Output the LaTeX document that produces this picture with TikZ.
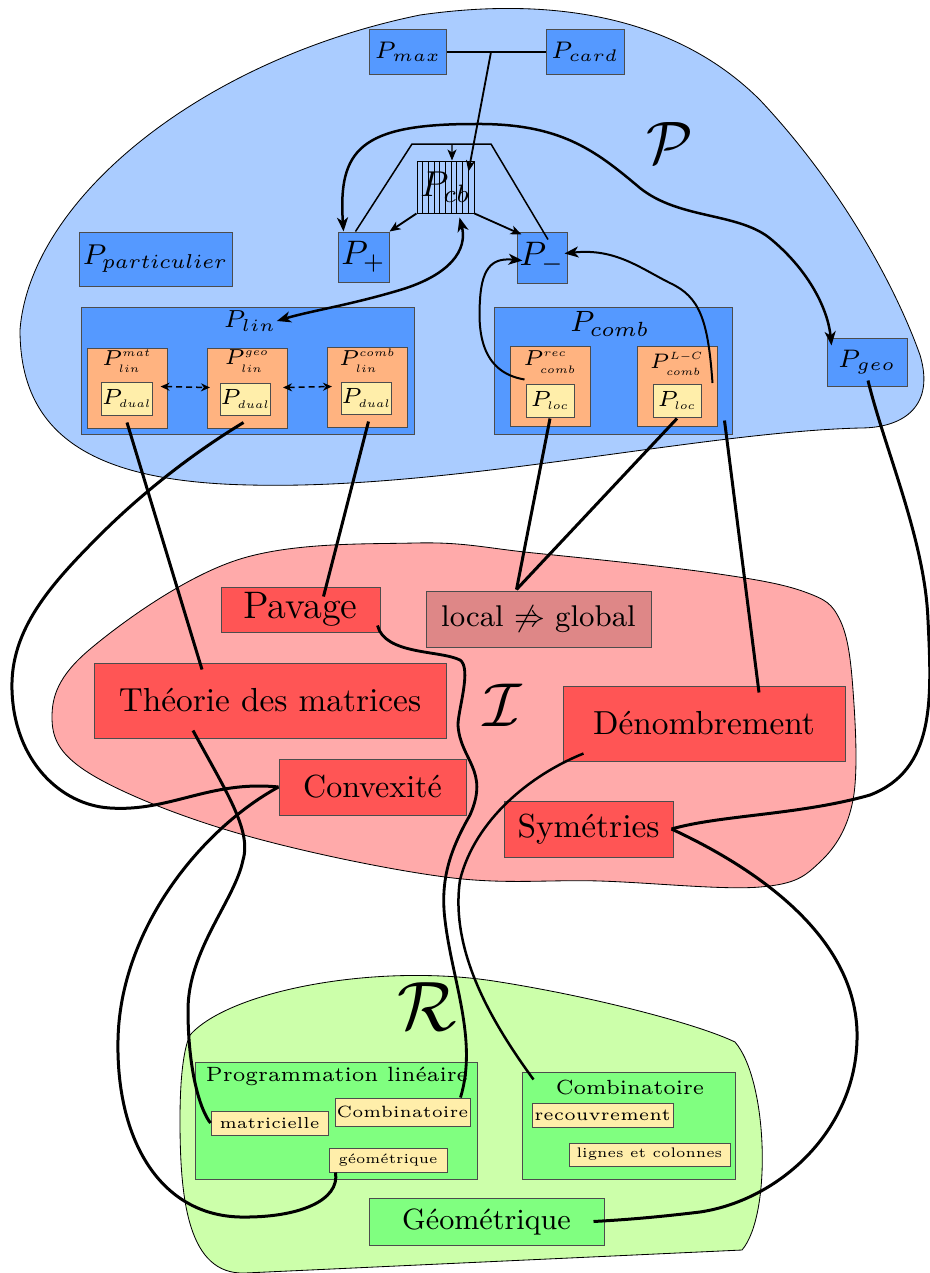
\RequirePackage{fix-cm}
\documentclass[tikz,border=0pt]{standalone}
\usetikzlibrary{arrows.meta,calc}
\newcommand{\fsz}[1]{\fontsize{#1}{#1}\selectfont}
\newcommand{\ssc}[1]{{\scriptscriptstyle #1}}
\definecolor{bgblue}{HTML}{AACCFF}
\definecolor{boxblue}{HTML}{5599FF}
\definecolor{orangebox}{HTML}{FFB380}
\definecolor{yellowbox}{HTML}{FFEEAA}
\definecolor{pinkbg}{HTML}{FFAAAA}
\definecolor{redbox}{HTML}{FF5555}
\definecolor{localbox}{HTML}{DE8787}
\definecolor{greenbg}{HTML}{CCFFAA}
\definecolor{greenbox}{HTML}{80FF80}
\tikzset{
  sz/.style 2 args={minimum width=#1*0.3pt, minimum height=#2*0.3pt},
  bbox/.style={draw=black!70, fill=boxblue, line width=0.3pt, inner sep=0pt},
  obox/.style={draw=black!70, fill=orangebox, line width=0.3pt, inner sep=0pt},
  ybox/.style={draw=black!70, fill=yellowbox, line width=0.3pt, inner sep=0pt},
  rbox/.style={draw=black!70, fill=redbox, line width=0.3pt, inner sep=0pt},
  gbox/.style={draw=black!70, fill=greenbox, line width=0.3pt, inner sep=0pt},
  blob/.style={draw=black, line width=0.25pt},
  arrowone/.style={-{Stealth[length=4.2pt,width=3.3pt,inset=1.2pt]}},
  arrowtwo/.style={{Stealth[length=4.2pt,width=3.3pt,inset=1.2pt]}-{Stealth[length=4.2pt,width=3.3pt,inset=1.2pt]}},
  smallarrow/.style={-{Stealth[length=3.3pt,width=2.7pt,inset=0.9pt]}},
  dasharrow/.style={line width=0.45pt, dash pattern=on 1.8pt off 1.2pt, {Stealth[length=2.7pt,width=2.4pt]}-{Stealth[length=2.7pt,width=2.4pt]}},
  con/.style={line width=0.9pt},
  plain/.style={inner sep=0pt},
}
\begin{document}
\begin{tikzpicture}[x=0.3pt,y=-0.3pt]
\useasboundingbox (0,0) rectangle (930,1273);

% ---------- regions ----------
\draw[blob, fill=bgblue] (20,330) .. controls (30,200) and (200,60) .. (420,15)
  .. controls (560,-5) and (680,20) .. (760,100)
  .. controls (840,185) and (895,285) .. (920,355)
  .. controls (935,405) and (905,428) .. (860,428)
  .. controls (700,432) and (450,490) .. (250,485)
  .. controls (100,482) and (20,440) .. (20,330) -- cycle;
\draw[blob, fill=pinkbg] plot[smooth cycle, tension=0.6] coordinates {
 (415,543) (534,553) (712,573) (805,592) (840,620) (853,690) (853,800) (820,862) (760,887)
 (600,881) (445,877) (237,833) (89,773) (52,717) (89,650) (237,560)};
\draw[blob, fill=greenbg] (190,1035) .. controls (230,990) and (380,962) .. (500,982)
  .. controls (600,998) and (700,1025) .. (735,1042)
  .. controls (768,1080) and (772,1215) .. (742,1250) -- (245,1273)
  .. controls (188,1275) and (180,1200) .. (180,1120)
  .. controls (180,1075) and (184,1048) .. (190,1035) -- cycle;

\node[plain, font=\fsz{18}] (lblP) at (670,143) {$\mathcal{P}$};
\node[plain, font=\fsz{18.6}] (lblI) at (503,705) {$\mathcal{I}$};
\node[plain, font=\fsz{21}] (lblR) at (427,1007) {$\mathcal{R}$};

% ---------- P region ----------
\node[bbox, sz={77}{45}, font=\fsz{7.2}] (pmax) at (408,52) {$P_{max}$};
\node[bbox, sz={78}{45}, font=\fsz{7.2}] (pcard) at (585,52) {$P_{card}$};
\node[draw=black, line width=0.3pt, inner sep=0pt, sz={57}{52},
  path picture={\foreach \k in {1,...,9}{\draw[line width=0.3pt] ([xshift=\k*1.71pt]path picture bounding box.south west) -- ([xshift=\k*1.71pt]path picture bounding box.north west);}},
  font=\fsz{10.8}] (pcb) at (445.5,187) {$P_{cb}$};
\node[bbox, sz={51}{50}, font=\fsz{10.2}] (pplus) at (363.5,257) {$P_+$};
\node[bbox, sz={50}{51}, font=\fsz{10.2}] (pminus) at (542,257.5) {$P_-$};
\node[bbox, sz={153}{54}, font=\fsz{8.6}] (ppart) at (155.5,259) {$P_{particulier}$};
\node[bbox, sz={80}{48}, font=\fsz{7.6}] (pgeo) at (867,362) {$P_{geo}$};

\node[bbox, sz={333}{127}] (plin) at (247.5,370.5) {};
\node[plain, font=\fsz{7.4}] (plinlab) at (250,321) {$P_{lin}$};
\node[obox, sz={80}{80}] (omat) at (127,388) {};
\node[obox, sz={80}{80}] (ogeo) at (247,388) {};
\node[obox, sz={80}{80}] (ocomb) at (367.5,387) {};
\node[plain, font=\fsz{6.5}] (lmat) at (127,361) {$P^{\ssc{mat}}_{\ssc{lin}}$};
\node[plain, font=\fsz{6.5}] (lgeo) at (247,361) {$P^{\ssc{geo}}_{\ssc{lin}}$};
\node[plain, font=\fsz{6.5}] (lcomb) at (367.5,361) {$P^{\ssc{comb}}_{\ssc{lin}}$};
\node[ybox, sz={50}{33}, font=\fsz{6.6}] (pdual1) at (127,398.5) {$P_{\ssc{dual}}$};
\node[ybox, sz={47}{32}, font=\fsz{6.6}] (pdual2) at (245.5,399) {$P_{\ssc{dual}}$};
\node[ybox, sz={49}{32}, font=\fsz{6.6}] (pdual3) at (366.5,398) {$P_{\ssc{dual}}$};

\node[bbox, sz={238}{127}] (pcomb) at (613,370.5) {};
\node[plain, font=\fsz{8.8}] (pcomblab) at (610,324) {$P_{comb}$};
\node[obox, sz={80}{80}] (orec) at (550,386) {};
\node[obox, sz={80}{80}] (olc) at (677,386) {};
\node[plain, font=\fsz{6.5}] (lrec) at (550,362) {$P^{\ssc{rec}}_{\ssc{comb}}$};
\node[plain, font=\fsz{6.3}] (llc) at (677,364) {$P^{\ssc{L-C}}_{\ssc{comb}}$};
\node[ybox, sz={48}{33}, font=\fsz{6.6}] (ploc1) at (550,400.5) {$P_{\ssc{loc}}$};
\node[ybox, sz={48}{33}, font=\fsz{6.6}] (ploc2) at (677,400.5) {$P_{\ssc{loc}}$};

% ---------- I region ----------
\node[rbox, sz={159}{45}, font=\fsz{11.5}] (pavage) at (300.5,609.5) {Pavage};
\node[draw=black!70, fill=localbox, line width=0.3pt, inner sep=0pt, sz={225}{56}, font=\fsz{9}] (lg) at (538.5,619) {local $\not\Rightarrow$ global};
\node[rbox, sz={352}{75}, font=\fsz{10}] (theorie) at (270,700.5) {Théorie des matrices};
\node[rbox, sz={282}{75}, font=\fsz{10}] (denom) at (704,723.5) {Dénombrement};
\node[rbox, sz={187}{56}, font=\fsz{9.6}] (convex) at (372.5,787) {Convexité};
\node[rbox, sz={169}{56}, font=\fsz{10}] (sym) at (588.5,829) {Symétries};

% ---------- R region ----------
\node[gbox, sz={282}{117}] (progbox) at (336,1120.5) {};
\node[plain, font=\fsz{6.2}] (progtitle) at (337,1076) {Programmation linéaire};
\node[ybox, sz={117}{24}, font=\fsz{4.75}] (matric) at (269.5,1123) {matricielle};
\node[ybox, sz={135}{28}, font=\fsz{4.9}] (combsmall) at (402.5,1112) {Combinatoire};
\node[ybox, sz={118}{24}, font=\fsz{4.1}] (gsmall) at (388,1160) {géométrique};
\node[gbox, sz={213}{107}] (combR) at (628.5,1125.5) {};
\node[plain, font=\fsz{6.15}] (combtitle) at (630,1087) {Combinatoire};
\node[ybox, sz={141}{24}, font=\fsz{5.1}] (recouv) at (602.5,1115) {recouvrement};
\node[ybox, sz={161}{23}, font=\fsz{4.15}] (lignes) at (649.5,1154.5) {lignes et colonnes};
\node[gbox, sz={235}{47}, font=\fsz{8.8}] (geomR) at (486.5,1221.5) {Géométrique};

% ---------- connectors inside P ----------
\coordinate (mid) at (491,52);
\coordinate (trl) at (412,144);
\coordinate (trr) at (491,144);
\coordinate (trm) at (452,144);
\draw[line width=0.6pt] (pmax.east) -- (pcard.west);
\draw[line width=0.55pt, smallarrow] (mid) -- ($(pcb.north east)+(-6,11)$);
\draw[line width=0.45pt] ($(pplus.north)+(-8,0)$) -- (trl) -- (trr) -- ($(pminus.north)+(6,8)$);
\draw[line width=0.36pt, smallarrow] (trm) -- ($(pcb.north)+(6.5,0)$);
\draw[line width=0.55pt, smallarrow] (pcb.south west) -- (pplus.north east);
\draw[line width=0.55pt, smallarrow] (pcb.south east) -- ($(pminus.north west)+(5,3)$);
\draw[dasharrow] ($(pdual1.north east)+(8,5)$) -- ($(pdual2.north west)+(-10,5)$);
\draw[dasharrow] ($(pdual2.north east)+(12,5)$) -- ($(pdual3.north west)+(-9,5)$);

\draw[line width=0.75pt, arrowtwo] ($(pplus.north)+(-20,0)$)
  .. controls (338,150) and (360,124) .. (474,124)
  .. controls (560,123) and (595,150) .. (640,188)
  .. controls (680,220) and (740,212) .. (772,240)
  .. controls (810,272) and (828,310) .. ($(pgeo.north west)+(5,8)$);
\draw[line width=0.75pt, arrowtwo] ($(pcb.south)+(14,4)$)
  .. controls (468,250) and (450,275) .. (400,290)
  .. controls (350,305) and (310,311) .. (plinlab.east);
\draw[line width=0.6pt, arrowone] ($(ploc1.north west)+(-1,-4)$)
  .. controls (480,372) and (478,330) .. (480,300)
  .. controls (482,264) and (495,258) .. ($(pminus.west)+(6,3)$);
\draw[line width=0.6pt, arrowone] ($(olc.east)+(-5,-3)$)
  .. controls (708,320) and (700,297) .. (670,283)
  .. controls (640,268) and (615,248) .. ($(pminus.east)+(-3,-4)$);

% ---------- P -> I ----------
\draw[con] ($(pdual1.south)+(0,7)$) -- ($(theorie.north)+(-68,7)$);
\draw[con] ($(pdual2.south)+(-2,7)$)
  .. controls (190,455) and (140,495) .. (100,535)
  .. controls (50,585) and (10,630) .. (12,690)
  .. controls (14,760) and (60,805) .. (110,808)
  .. controls (170,812) and (210,780) .. (convex.west);
\draw[con] ($(pdual3.south)+(2,7)$) -- ($(pavage.north)+(23,10)$);
\draw[con] ($(ploc1.south)+(0,1)$) -- ($(lg.north)+(-22,-1)$);
\draw[con] ($(ploc2.south)+(0,1)$) -- ($(lg.north)+(-22,-1)$);
\draw[con] ($(pcomb.south east)+(-8,-14)$) -- ($(denom.north)+(55,7)$);
\draw[con] ($(pgeo.south)+(1,-6)$)
  .. controls (885,450) and (925,540) .. (928,620)
  .. controls (932,700) and (935,770) .. (870,795)
  .. controls (800,815) and (720,815) .. ($(sym.east)+(-2,0)$);

% ---------- I -> R ----------
\draw[con] ($(theorie.south)+(-77,-8)$)
  .. controls (225,790) and (252,830) .. (243,860)
  .. controls (235,900) and (188,950) .. (188,1010)
  .. controls (188,1070) and (200,1110) .. (matric.west);
\draw[con] (convex.west)
  .. controls (200,830) and (120,930) .. (118,1040)
  .. controls (116,1140) and (160,1215) .. (240,1217)
  .. controls (300,1218) and (340,1200) .. ($(gsmall.south west)+(7,0)$);
\draw[line width=0.85pt] ($(pavage.south east)+(-3,-7)$)
  .. controls (385,655) and (440,650) .. (460,660)
  .. controls (472,668) and (458,710) .. (458,725)
  .. controls (460,760) and (490,770) .. (470,815)
  .. controls (450,850) and (440,880) .. (445,920)
  .. controls (452,980) and (478,1040) .. ($(combsmall.north east)+(-10,0)$);
\draw[line width=0.75pt] ($(denom.south west)+(21,-8)$)
  .. controls (530,775) and (475,820) .. (460,880)
  .. controls (450,950) and (490,1020) .. ($(combR.north west)+(12,8)$);
\draw[con] ($(sym.east)+(-2,0)$)
  .. controls (760,870) and (860,940) .. (857,1040)
  .. controls (855,1130) and (780,1200) .. (700,1212)
  .. controls (650,1218) and (620,1220) .. ($(geomR.east)+(-11,0)$);
\end{tikzpicture}
\end{document}
